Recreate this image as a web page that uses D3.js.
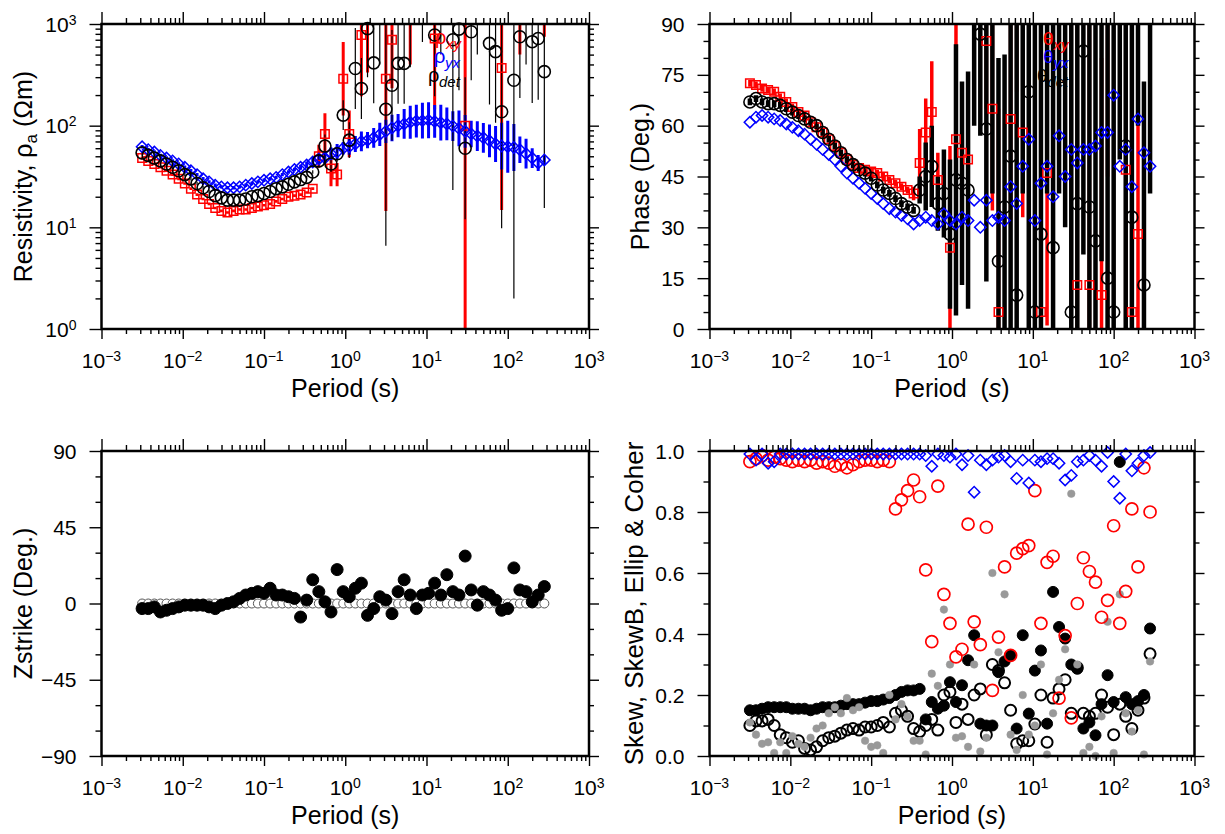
<!DOCTYPE html>
<html lang="en">
<head>
<meta charset="UTF-8">
<title>MT sounding curves</title>
<style>
  body { margin: 0; background: #fff; }
  svg { font-family: "Liberation Sans", Arial, Helvetica, sans-serif; }
</style>
</head>
<body>
<script src="https://d3js.org/d3.v7.min.js"></script>
<script>
// periods (s)
var periods = [0.00316,0.00376,0.00447,0.00531,0.00631,0.0075,0.00891,0.0106,0.0126,0.015,
  0.0178,0.0211,0.0251,0.0299,0.0355,0.0422,0.0501,0.0596,0.0708,0.0841,
  0.1,0.119,0.141,0.168,0.2,0.237,0.282,0.335,0.398,0.473,
  0.562,0.668,0.794,0.944,1.12,1.33,1.58,1.88,2.24,2.66,
  3.16,3.76,4.47,5.31,6.31,7.5,8.91,10.6,12.6,15.0,
  17.8,21.1,25.1,29.9,35.5,42.2,50.1,59.6,70.8,84.1,
  100,119,141,168,200,237,282];

// apparent resistivity (ohm-m), error as multiplicative factor
var rhoXY = [48,45,42,39,36,33,30,27,24,21,19,17,15.5,14.5,14,14.5,15,15,15.5,16,16.5,17,18,19,20,20.5,21,22,24,
  50,83,38,33,290,83,null,780,2000,null,null,290,700,null,null,2000,null,null,null,720,
  null,null,null,null,100,null,null,null,null,null,370,null,null,3000,null,null,null,3000];
var rhoXYErr = [1.03,1.03,1.03,1.03,1.03,1.03,1.03,1.03,1.03,1.03,1.03,1.03,1.03,1.03,1.03,1.03,1.03,1.03,1.03,1.03,1.03,1.03,1.03,1.03,1.03,1.03,1.03,1.03,1.03,
  1.3,1.6,1.5,1.3,2.3,1.7,null,4,6,null,null,20,3,null,null,5,null,null,null,5,
  null,null,null,null,200,null,null,null,null,null,25,null,null,6,null,null,null,4];
var rhoYX = [62,58,55,51,48,45,42,39,36,33,30,28,26,25,24.5,24.5,25,26,27,28,29,30,31,33,35,37,39,41,44,47,
  48,53,55,60,62,66,70,72,76,82,88,95,100,104,108,111,112,113,110,107,
  104,99,94,88,83,79,76,71,66,63,62,61,58,53,48,43,46];
var rhoYXErr = [1.04,1.04,1.04,1.04,1.04,1.04,1.04,1.04,1.04,1.04,1.04,1.04,1.04,1.04,1.04,1.04,1.04,1.04,1.04,1.04,1.04,1.04,1.04,1.04,1.04,1.04,
  1.06,1.08,1.12,1.1,1.12,1.15,1.2,1.15,1.2,1.2,1.25,1.2,1.25,1.3,1.3,1.35,1.3,1.4,1.45,1.45,
  1.5,1.5,1.45,1.5,1.45,1.4,1.5,1.45,1.35,1.4,1.4,1.45,1.5,1.7,1.8,1.7,1.35,1.4,1.25,1.2,1.1];
var rhoDet = [54,51,48,45,42,39,36,33,30,27,24.5,22.5,20.5,19.5,18.5,18.5,18.5,19,20,20.5,21.5,22.5,24,25,26.5,28,29.5,31,35,
  45,63,42,53,127,72,365,232,900,415,2000,145,250,410,410,3000,null,2000,null,780,
  1500,null,700,890,60,840,2000,null,645,535,137,null,280,750,2000,670,720,340];
var rhoDetErr = [1.04,1.04,1.04,1.04,1.04,1.04,1.04,1.04,1.04,1.04,1.04,1.04,1.04,1.04,1.04,1.04,1.04,1.04,1.04,1.04,1.04,1.04,1.04,1.04,1.04,1.04,1.04,1.04,1.04,
  1.15,1.3,1.2,1.2,1.4,1.5,2.5,2,3,2.5,5,22,3.5,2.5,2.5,8,null,3,null,4,
  3,null,30,4,5,3,4,null,4,5,14,null,140,4,5,4,4,22];

// impedance phase (deg), error in deg
var phiXY = [72.5,72,71,70.5,70,68.5,67,65.5,64,63,61,59.5,58,56,54,52,50,48.5,47.5,47,46.5,46,45,44,43,42,41,40,
  49,58,64,44,null,24,56,52,50,100,null,85,65,5,null,62,100,58,null,null,
  5,46,100,null,null,100,13,null,13,null,10,100,null,100,47,5,28,null,100];
var phiXYErr = [1,1,1,1,1,1,1,1,1,1,1,1,1,1,1,1,1,1,1,1,1,1,1,1,1,1,1,2,
  10,10,15,8,null,30,35,20,20,15,null,20,30,60,null,30,30,25,null,null,
  70,45,20,null,null,60,80,null,80,null,70,55,null,10,45,80,50,null,10];
var phiYX = [61,62.5,63,62.5,62,61.5,60.5,59.5,58.5,57.5,56,54.5,53,51.5,50,48,46,44.5,43,41.5,40,38.5,37,35.5,34.5,33.5,32.5,31,
  32,33,32,31,34,32,31,33,32,38,30,38,32,33,32,42,37,48,56,32,
  43,48,39,57,45,53,49,53,53,54,58,58,69,48,53,42,62,52,48];
var phiDet = [67,68,67,66.5,66.5,66,65,64,63,62,61,60,58,56,54,52,50,48.5,47,46,44.5,42.5,41,40,38.5,37,36,35,
  41,45,48,37,40,28,44,43,41,100,87,59,100,20,36,51,10,100,70,5,
  28,100,24,100,100,5,37,82,36,26,100,15,5,100,54,33,100,13,100];
var phiDetErr = [1,1,1,1,1,1,1,1,1,1,1,1,1,1,1,1,1,1,1,1,1,1,1,1,1,1,1,1,
  4,10,12,8,13,22,40,30,35,40,30,45,60,60,45,55,80,60,70,85,
  80,60,75,60,70,85,60,60,55,70,80,80,85,50,55,60,40,60,60];

// impedance strike (deg): rotated (open) and estimated (filled)
var strikeOpen = [0,0,0,0,0,0,0,0,0,0,0,0,0,0,0,0,0,0,0,0,0,0,0,0,0,0,0,0,0,0,0,0,0,0,
  0,0,0,0,0,0,0,0,0,0,0,0,0,0,0,0,0,0,0,0,0,0,0,0,0,0,0,0,0,0,0,0,0];
var strikeEst = [-3,-3,-2,-5,-4,-3,-2,-1,-1,-1,-1,-2,-3,-1,0,1,3,5,6,7,6,9,5,5,4,3,
  -8,2,14,7,1,-5,20,7,4,9,12,-7,-3,4,2,-6,7,14,5,-3,5,6,12,5,17,7,5,28,8,-1,7,5,2,-4,-3,21,8,7,1,5,10];

// skew, skewB, ellipticity, coherence
var skew = [0.15,0.15,0.155,0.16,0.16,0.16,0.16,0.155,0.155,0.155,0.15,0.155,0.16,0.16,0.16,0.165,0.17,0.17,0.17,0.175,
  0.18,0.18,0.185,0.19,0.2,0.21,0.215,0.215,0.22,0.12,0.177,0.155,0.165,0.242,0.177,0.232,0.314,0.396,0.106,0.1,
  0.1,0.275,0.31,0.33,0.09,0.396,0.139,0.28,0.346,0.106,0.538,0.423,0.385,0.3,0.286,0.09,0.11,0.068,0.17,0.265,
  0.177,0.964,0.193,0.17,0.18,0.2,0.418];
var skewB = [0.1,0.115,0.115,0.12,0.1,0.07,0.06,0.045,0.05,0.025,0.02,0.03,0.05,0.06,0.065,0.075,0.085,0.09,0.085,0.095,
  0.095,0.1,0.11,0.095,0.14,0.15,0.13,0.09,0.08,0.1,0.12,0.085,0.2,0.21,0.11,0.17,0.12,0.2,0.22,0.07,
  0.3,0.28,0.24,0.15,0.04,0.05,0.05,0.105,0.2,0.045,0.19,0.22,0.25,0.14,0.29,0.14,0.13,0.14,0.2,0.16,
  0.07,0.17,0.13,0.09,0.15,0.19,0.335];
var ellip = [0.11,0.07,0.04,0.045,0.01,0.045,0.01,0.065,0.04,0.03,0.06,0.09,0.1,0.14,0.16,0.14,0.19,0.15,0.16,0.05,
  0.03,0.035,0.01,0.2,0.12,0.17,0.13,0.05,0.05,0.005,0.27,0.23,0.48,0.3,0.06,0.065,0.03,0.3,0.015,0.06,
  0.6,0.34,0.53,0.07,0.02,0.2,0.07,0.1,0.3,0.005,0.14,0.25,0.35,0.86,0.3,0.01,0.03,0.0,0.13,0.44,
  0.01,0.53,0.14,0.08,0.15,0.005,0.31];
var coherXY = [0.965,0.975,0.985,0.97,0.98,0.975,0.97,0.965,0.97,0.965,0.97,0.96,0.965,0.96,0.95,0.955,0.945,0.955,0.965,0.97,
  0.97,0.965,0.97,0.965,0.81,0.84,0.87,0.905,0.85,0.61,0.375,0.885,0.53,0.435,0.325,0.35,0.76,0.44,0.365,0.75,
  0.215,0.39,0.62,0.33,0.665,0.68,0.69,0.87,0.435,0.635,0.655,0.19,0.395,0.125,0.5,0.65,0.605,0.57,0.455,0.51,
  0.755,0.435,0.54,0.81,0.62,0.945,0.8];
var coherYX = [0.99,0.97,0.99,0.96,0.965,0.99,0.99,0.99,0.99,0.99,0.99,0.99,0.99,0.99,0.99,0.99,0.99,0.99,0.99,0.99,
  0.99,0.99,0.99,0.99,0.99,0.99,0.99,0.99,0.99,0.985,0.95,0.99,0.985,0.98,0.99,0.955,0.985,0.865,0.97,0.955,
  0.97,0.98,0.985,0.965,0.91,0.97,0.895,0.97,0.965,0.975,0.975,0.96,0.905,0.92,0.965,0.97,0.985,0.97,0.95,0.995,
  0.9,0.845,0.99,0.935,0.96,0.985,0.995];

// axis ticks
var periodTicks = [1e-3, 1e-2, 1e-1, 1, 1e1, 1e2, 1e3];
var rhoTicks = [1, 10, 100, 1000];
var phaseTicks = [0, 15, 30, 45, 60, 75, 90];
var phaseMinor = [5, 10, 20, 25, 35, 40, 50, 55, 65, 70, 80, 85];
var strikeTicks = [-90, -45, 0, 45, 90];
var strikeMinor = [-75, -60, -30, -15, 15, 30, 60, 75];
var skewTicks = [0, 0.2, 0.4, 0.6, 0.8, 1.0];
var skewMinor = [0.1, 0.3, 0.5, 0.7, 0.9];

var svg = d3.select("body").append("svg")
    .attr("width", 1225).attr("height", 834);

function panel(id, box, y) {
  var x = d3.scaleLog().domain([1e-3, 1e3]).range([box.x0, box.x1]);
  y.range([box.y1, box.y0]);
  svg.append("clipPath").attr("id", id).append("rect")
      .attr("x", box.x0).attr("y", box.y0)
      .attr("width", box.x1 - box.x0).attr("height", box.y1 - box.y0);
  var g = svg.append("g");
  return { b: box, x: x, y: y, g: g,
           bars: g.append("g").attr("clip-path", "url(#" + id + ")"),
           marks: g.append("g") };
}

function errBars(p, vals, errs, log, color, width) {
  var pts = periods.map(function (t, i) { return [t, vals[i], errs[i]]; })
      .filter(function (d) { return d[1] != null && d[2] != null; });
  p.bars.selectAll(null).data(pts).enter().append("line")
      .attr("x1", function (d) { return p.x(d[0]); })
      .attr("x2", function (d) { return p.x(d[0]); })
      .attr("y1", function (d) { return p.y(log ? d[1] * d[2] : d[1] + d[2]); })
      .attr("y2", function (d) { return p.y(log ? d[1] / d[2] : d[1] - d[2]); })
      .attr("stroke", color).attr("stroke-width", width);
}

function marks(p, vals, shape, size, stroke, fill, sw) {
  var dom = p.y.domain(), lo = d3.min(dom), hi = d3.max(dom);
  var pts = periods.map(function (t, i) { return [t, vals[i]]; })
      .filter(function (d) { return d[1] != null && d[1] >= lo && d[1] <= hi; });
  var sel;
  if (shape === "circle") {
    sel = p.marks.selectAll(null).data(pts).enter().append("circle")
        .attr("cx", function (d) { return p.x(d[0]); })
        .attr("cy", function (d) { return p.y(d[1]); })
        .attr("r", size);
  } else {
    sel = p.marks.selectAll(null).data(pts).enter().append("path")
        .attr("d", d3.symbol(d3.symbolSquare, size * size))
        .attr("transform", function (d) {
          return "translate(" + p.x(d[0]) + "," + p.y(d[1]) + ")" + (shape === "diamond" ? " rotate(45)" : "");
        });
  }
  sel.attr("fill", fill).attr("stroke", stroke).attr("stroke-width", sw);
}

function powText(t, e) {
  t.append("tspan").text("10");
  t.append("tspan").attr("dy", -7).attr("font-size", 14).text(e < 0 ? "\u2212" + (-e) : e);
}

function isDecade(v) {
  var l = Math.log10(v);
  return Math.abs(l - Math.round(l)) < 1e-6;
}

function axes(p, yMajor, yMinor, yFmt) {
  var b = p.b, g = p.g.append("g");
  var xMinor = p.x.ticks().filter(function (v) { return !isDecade(v); });
  function tk(axis, vals, len, tx, ty) {
    g.append("g").attr("transform", "translate(" + tx + "," + ty + ")")
        .call(axis.tickValues(vals).tickSize(len).tickFormat(""))
        .call(function (s) {
          s.select(".domain").remove();
          s.selectAll("line").attr("stroke-width", 1.4);
        });
  }
  tk(d3.axisBottom(p.x), periodTicks, 10, 0, b.y1);
  tk(d3.axisBottom(p.x), xMinor, 5, 0, b.y1);
  tk(d3.axisTop(p.x), periodTicks, 12, 0, b.y0);
  tk(d3.axisTop(p.x), xMinor, 6, 0, b.y0);
  tk(d3.axisLeft(p.y), yMajor, 12, b.x0, 0);
  tk(d3.axisLeft(p.y), yMinor, 6, b.x0, 0);
  tk(d3.axisRight(p.y), yMajor, 10, b.x1, 0);
  tk(d3.axisRight(p.y), yMinor, 5, b.x1, 0);

  g.append("rect")
      .attr("x", b.x0).attr("y", b.y0)
      .attr("width", b.x1 - b.x0).attr("height", b.y1 - b.y0)
      .attr("fill", "none").attr("stroke", "#000").attr("stroke-width", 2.5);

  g.selectAll(null).data(periodTicks).enter().append("text")
      .attr("x", function (d) { return p.x(d); })
      .attr("y", b.y1 + 39)
      .attr("text-anchor", "middle").attr("font-size", 21)
      .each(function (d) { powText(d3.select(this), Math.round(Math.log10(d))); });

  g.selectAll(null).data(yMajor).enter().append("text")
      .attr("x", b.x0 - 25)
      .attr("y", function (d) { return p.y(d) + 7.5; })
      .attr("text-anchor", "end").attr("font-size", 21)
      .each(function (d) {
        if (yFmt) d3.select(this).text(yFmt(d));
        else powText(d3.select(this), Math.round(Math.log10(d)));
      });
}

function xTitle(p, parts) {
  var t = p.g.append("text")
      .attr("x", (p.b.x0 + p.b.x1) / 2).attr("y", p.b.y1 + 68)
      .attr("text-anchor", "middle").attr("font-size", 25)
      .style("white-space", "pre");
  parts.forEach(function (s) {
    t.append("tspan").attr("font-style", s[1] ? "italic" : null).text(s[0]);
  });
}

function yTitle(p, x, size) {
  return p.g.append("text")
      .attr("transform", "translate(" + x + "," + (p.b.y0 + p.b.y1) / 2 + ") rotate(-90)")
      .attr("text-anchor", "middle").attr("font-size", size || 25);
}

// symbol and subscript are separate texts so the stacked labels stay compact
function legend(p, x, y, sym, sub, color, big) {
  p.g.append("text").attr("x", x).attr("y", y).attr("fill", color)
      .attr("font-size", big).text(sym);
  p.g.append("text").attr("x", x + big * 0.55).attr("y", y + 5).attr("fill", color)
      .attr("font-size", 15).attr("font-style", "italic").text(sub);
}

// ---- resistivity ----
var pR = panel("clipR", {x0: 101.5, x1: 589, y0: 24, y1: 329}, d3.scaleLog().domain([1, 1000]));
errBars(pR, rhoXY, rhoXYErr, true, "#ff0000", 3);
errBars(pR, rhoYX, rhoYXErr, true, "#0000ff", 3);
errBars(pR, rhoDet, rhoDetErr, true, "#000", 1.2);
marks(pR, rhoXY, "square", 8.5, "#ff0000", "none", 1.5);
marks(pR, rhoYX, "diamond", 8, "#0000ff", "none", 1.5);
marks(pR, rhoDet, "circle", 6, "#000", "none", 1.6);
axes(pR, rhoTicks, pR.y.ticks().filter(function (v) { return !isDecade(v); }), null);
xTitle(pR, [["Period ("], ["s"], [")"]]);
var tR = yTitle(pR, 32);
tR.append("tspan").text("Resistivity, \u03c1");
tR.append("tspan").attr("dy", 5).attr("font-size", 17).text("a");
tR.append("tspan").attr("dy", -5).text(" (\u03a9m)");
legend(pR, 435, 44, "\u03c1", "xy", "#ff0000", 20);
legend(pR, 434, 63, "\u03c1", "yx", "#0000ff", 20);
legend(pR, 428, 82, "\u03c1", "det", "#000", 20);

// ---- phase ----
var pP = panel("clipP", {x0: 709.5, x1: 1194.5, y0: 24, y1: 329}, d3.scaleLinear().domain([0, 90]));
errBars(pP, phiXY, phiXYErr, false, "#ff0000", 3.5);
errBars(pP, phiDet, phiDetErr, false, "#000", 4.5);
marks(pP, phiXY, "square", 8.5, "#ff0000", "none", 1.5);
marks(pP, phiYX, "diamond", 8, "#0000ff", "none", 1.5);
marks(pP, phiDet, "circle", 6, "#000", "none", 1.6);
axes(pP, phaseTicks, phaseMinor, d3.format("d"));
xTitle(pP, [["Period  ("], ["s", true], [")"]]);
yTitle(pP, 649).text("Phase (Deg.)");
legend(pP, 1043, 45, "\u03b8", "xy", "#ff0000", 19);
legend(pP, 1043, 63, "\u03b8", "yx", "#0000ff", 19);
legend(pP, 1037, 82, "\u03b8", "det", "#000", 19);

// ---- strike ----
var pS = panel("clipS", {x0: 101.5, x1: 589, y0: 451, y1: 756}, d3.scaleLinear().domain([-90, 90]));
marks(pS, strikeOpen, "circle", 4.5, "#555", "#fff", 1);
marks(pS, strikeEst, "circle", 6, "#000", "#000", 1);
axes(pS, strikeTicks, strikeMinor, d3.format("d"));
xTitle(pS, [["Period (s)"]]);
yTitle(pS, 32).text("Zstrike (Deg.)");

// ---- skew / ellipticity / coherence ----
var pK = panel("clipK", {x0: 709.5, x1: 1194.5, y0: 451, y1: 756}, d3.scaleLinear().domain([0, 1]));
marks(pK, skew, "circle", 5.5, "#000", "#000", 1);
marks(pK, skewB, "circle", 5.5, "#000", "none", 2);
marks(pK, ellip, "circle", 3.8, "#999", "#999", 0.5);
marks(pK, coherXY, "circle", 6, "#ff0000", "none", 1.7);
marks(pK, coherYX, "diamond", 8, "#0000ff", "none", 1.5);
axes(pK, skewTicks, skewMinor, d3.format(".1f"));
xTitle(pK, [["Period ("], ["s", true], [")"]]);
yTitle(pK, 643, 26).text("Skew, SkewB, Ellip & Coher");
</script>
</body>
</html>
